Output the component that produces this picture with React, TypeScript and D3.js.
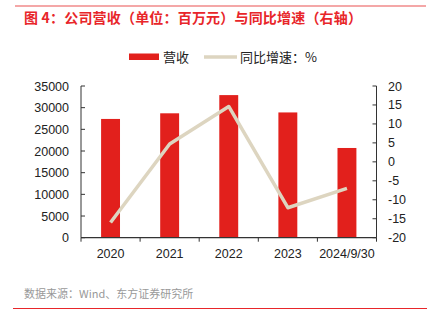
import React from "react";
import * as d3 from "d3";

const categories = ["2020", "2021", "2022", "2023", "2024/9/30"];
const revenue = [27400, 28700, 32900, 28900, 20700];
const growth = [-16, 4.7, 14.6, -12.1, -7.0];
const leftTicks = [0, 5000, 10000, 15000, 20000, 25000, 30000, 35000];
const rightTicks = [-20, -15, -10, -5, 0, 5, 10, 15, 20];

const W = 438, H = 323;
const plot = { left: 81, right: 376.5, top: 86, bottom: 237.7 };
const numFont = "'Liberation Sans', Arial, sans-serif";
const cjkFont = "'Noto Sans CJK SC', 'Noto Sans', sans-serif";

export default function App() {
  const x = d3.scaleBand<string>().domain(categories).range([plot.left, plot.right]).paddingInner(0).paddingOuter(0);
  const yL = d3.scaleLinear().domain([0, 35000]).range([plot.bottom, plot.top]);
  const yR = d3.scaleLinear().domain([-20, 20]).range([plot.bottom, plot.top]);
  const bw = x.bandwidth() * 0.32;
  const line = d3.line<number>().x((_, i) => x(categories[i])! + x.bandwidth() / 2).y((d) => yR(d));
  const axisColor = "#333";
  const boundaries = [plot.left, ...categories.map((c) => x(c)! + x.bandwidth())];

  return (
    <svg width={W} height={H} style={{ position: "absolute", left: 0, top: 0, background: "#fff" }}>
      <line x1={15} x2={426} y1={6} y2={6} stroke="#f08a8a" strokeWidth={1.5} />
      <text x={24} y={23} fill="#e8262a" fontFamily={cjkFont} fontWeight="bold" fontSize={14} textLength={338} lengthAdjust="spacing">
        图 4：公司营收（单位：百万元）与同比增速（右轴）
      </text>
      {/* legend */}
      <rect x={129} y={53.5} width={30} height={6.5} fill="#e2201c" />
      <text x={163} y={61.5} fontFamily={cjkFont} fontSize={13} fill="#222">营收</text>
      <line x1={204} x2={237} y1={57} y2={57} stroke="#ddd5c0" strokeWidth={3.5} />
      <text x={240} y={61.5} fontFamily={cjkFont} fontSize={13} fill="#222">同比增速：%</text>

      {/* bars */}
      {revenue.map((v, i) => (
        <rect key={i} x={x(categories[i])! + x.bandwidth() / 2 - bw / 2} y={yL(v)} width={bw} height={yL(0) - yL(v)} fill="#e2201c" />
      ))}
      {/* line */}
      <path d={line(growth)!} fill="none" stroke="#ddd5c0" strokeWidth={3.5} strokeLinejoin="round" />

      {/* left axis */}
      <line x1={plot.left} x2={plot.left} y1={plot.top} y2={plot.bottom} stroke={axisColor} strokeWidth={1} />
      {leftTicks.map((t) => (
        <g key={t}>
          <line x1={plot.left} x2={plot.left + 4} y1={yL(t)} y2={yL(t)} stroke={axisColor} />
          <text x={69} y={yL(t) + 4.5} textAnchor="end" fontFamily={numFont} fontSize={12.5} fill="#222">{t}</text>
        </g>
      ))}
      {/* right axis */}
      <line x1={plot.right} x2={plot.right} y1={plot.top} y2={plot.bottom} stroke={axisColor} strokeWidth={1} />
      {rightTicks.map((t) => (
        <g key={t}>
          <line x1={plot.right - 4} x2={plot.right} y1={yR(t)} y2={yR(t)} stroke={axisColor} />
          <text x={388} y={yR(t) + 4.5} textAnchor="start" fontFamily={numFont} fontSize={12.5} fill="#222">{t}</text>
        </g>
      ))}
      {/* x axis */}
      <line x1={plot.left} x2={plot.right} y1={plot.bottom} y2={plot.bottom} stroke={axisColor} strokeWidth={1.2} />
      {boundaries.map((b, i) => (
        <line key={i} x1={b} x2={b} y1={plot.bottom} y2={plot.bottom + 4} stroke={axisColor} />
      ))}
      {categories.map((c) => (
        <text key={c} x={x(c)! + x.bandwidth() / 2} y={257.5} textAnchor="middle" fontFamily={numFont} fontSize={12.5} fill="#222">{c}</text>
      ))}

      <text x={24} y={298} fontFamily={cjkFont} fontSize={11} fill="#999">数据来源：Wind、东方证券研究所</text>
      <line x1={13} x2={427} y1={308.5} y2={308.5} stroke="#e8262a" strokeWidth={1} />
    </svg>
  );
}
